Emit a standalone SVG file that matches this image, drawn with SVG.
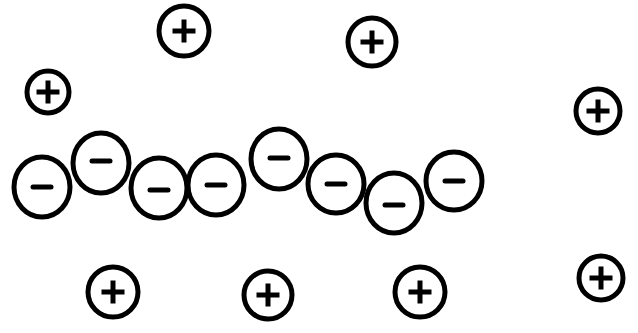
<svg xmlns="http://www.w3.org/2000/svg" width="638" height="333" viewBox="0 0 638 333">
<style>
.c{fill:#fff;stroke:#000;stroke-width:5}
.p{stroke:#000;stroke-width:5;fill:none}
.m{stroke:#000;stroke-width:5;stroke-linecap:round;fill:none}
</style>
<defs>
<g id="plus"><path class="p" d="M-11.5,0H11.5M0,-11.5V11.5"/></g>
<g id="minus"><path class="m" d="M-9,0H9"/></g>
</defs>
<rect width="638" height="333" fill="#fff"/>
<g id="p1" transform="translate(184,31)"><circle class="c" r="25"/><use href="#plus"/></g>
<g id="p2" transform="translate(372,42)"><circle class="c" r="24"/><use href="#plus"/></g>
<g id="p3" transform="translate(48,92)"><circle class="c" r="21"/><use href="#plus"/></g>
<g id="p4" transform="translate(598,111)"><circle class="c" r="22"/><use href="#plus"/></g>
<g id="p5" transform="translate(113,292)"><circle class="c" r="25"/><use href="#plus"/></g>
<g id="p6" transform="translate(268,295)"><circle class="c" r="24"/><use href="#plus"/></g>
<g id="p7" transform="translate(420,292)"><circle class="c" r="25"/><use href="#plus"/></g>
<g id="p8" transform="translate(601,278)"><circle class="c" r="22"/><use href="#plus"/></g>
<g id="m1" transform="translate(42,187)"><ellipse class="c" rx="28" ry="30"/><use href="#minus"/></g>
<g id="m2" transform="translate(101,163)"><ellipse class="c" rx="28" ry="30"/><use href="#minus" y="-2"/></g>
<g id="m3" transform="translate(159,188)"><ellipse class="c" rx="28" ry="30"/><use href="#minus" y="2"/></g>
<g id="m4" transform="translate(216,185)"><ellipse class="c" rx="28" ry="30"/><use href="#minus"/></g>
<g id="m5" transform="translate(279,159)"><ellipse class="c" rx="28" ry="30"/><use href="#minus" y="-1"/></g>
<g id="m6" transform="translate(336,184)"><ellipse class="c" rx="28" ry="29"/><use href="#minus"/></g>
<g id="m7" transform="translate(394,203)"><ellipse class="c" rx="28" ry="30"/><use href="#minus" y="2"/></g>
<g id="m8" transform="translate(454,181)"><ellipse class="c" rx="28" ry="29"/><use href="#minus"/></g>
</svg>
